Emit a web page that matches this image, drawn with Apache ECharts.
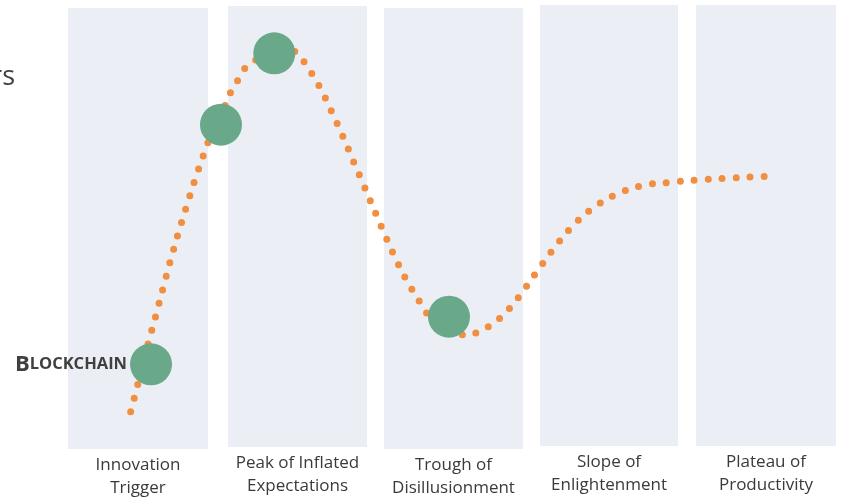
<!DOCTYPE html>
<html>
<head>
<meta charset="utf-8">
<script src="https://cdn.jsdelivr.net/npm/echarts@6/dist/echarts.min.js"></script>
<style>
html,body{margin:0;padding:0;background:#fff;}
#chart{width:841px;height:501px;}
</style>
</head>
<body>
<div id="chart"></div>
<script>
// Phases (x in time units 0-100, y in visibility units 0-100)
var phaseNames = ['Innovation\nTrigger', 'Peak of Inflated\nExpectations', 'Trough of\nDisillusionment', 'Slope of\nEnlightenment', 'Plateau of\nProductivity'];
var phaseStart = [0, 20.83, 41.15, 61.46, 81.77];
var phaseEnd   = [18.23, 38.93, 59.24, 79.43, 100];
var phaseBottom = [0, 0.45, 0, 0.68, 0.68];
var phaseTop    = [99.3, 99.8, 99.3, 100, 100];

// Hype curve
var curveX = [8.16, 9.08, 10.46, 11.42, 12.37, 13.32, 14.32, 15.40, 16.54, 17.73, 18.40, 19.92, 20.61, 21.45, 22.40, 23.48, 28.0, 29.65, 30.77, 32.72, 34.34, 35.85, 37.28, 38.02, 40.92, 42.41, 44.05, 45.96, 46.97, 52.21, 53.42, 55.08, 56.51, 57.77, 58.89, 61.03, 63.19, 65.53, 68.27, 71.45, 74.91, 78.61, 82.25, 85.94, 89.58, 91.95];
var curveY = [8.4, 14.5, 23.9, 29.95, 36.2, 42.3, 48.4, 54.5, 60.7, 66.6, 69.6, 73.0, 78.4, 81.1, 83.85, 86.5, 90.1, 89.4, 87.1, 81.7, 75.97, 70.2, 64.3, 61.4, 49.6, 43.8, 38.1, 32.7, 30.2, 25.56, 26.4, 27.9, 29.9, 32.2, 34.7, 39.9, 45.0, 49.9, 54.2, 57.4, 59.4, 60.1, 60.65, 61.0, 61.3, 61.4];

// Technologies placed on the curve
var techNames = ['BLOCKCHAIN', '', '', ''];
var techX = [10.81, 19.92, 26.86, 49.61];
var techY = [19.08, 73.04, 89.12, 29.80];

var chart = echarts.init(document.getElementById('chart'), null, {renderer: 'canvas'});

var areas = phaseNames.map(function (n, i) {
  return [{name: n, xAxis: phaseStart[i], yAxis: phaseBottom[i]}, {xAxis: phaseEnd[i], yAxis: phaseTop[i]}];
});
var curve = curveX.map(function (x, i) { return [x, curveY[i]]; });
var techs = techX.map(function (x, i) {
  var d = {value: [x, techY[i]], name: techNames[i]};
  if (techNames[i]) {
    d.label = {
      show: true, position: 'left', distance: 3,
      formatter: '{a|B}{b|LOCKCHAIN}',
      rich: {
        a: {fontFamily: 'Open Sans', fontWeight: 'bold', fontSize: 22, color: '#404040'},
        b: {fontFamily: 'Open Sans', fontWeight: 'bold', fontSize: 16.5, color: '#404040'}
      }
    };
  }
  return d;
});

chart.setOption({
  animation: false,
  backgroundColor: '#ffffff',
  title: {
    text: 'rs', right: 826, top: 62, padding: 0,
    textStyle: {fontFamily: 'Open Sans', fontWeight: 'normal', fontSize: 27, color: '#404040', lineHeight: 30}
  },
  grid: {left: 68, right: 5, top: 5, bottom: 52},
  xAxis: {type: 'value', min: 0, max: 100, show: false},
  yAxis: {type: 'value', min: 0, max: 100, show: false},
  series: [
    {
      type: 'line', data: [], silent: true,
      markArea: {
        silent: true,
        itemStyle: {color: '#ebeef4'},
        label: {
          show: true, position: 'bottom', distance: 5,
          fontFamily: 'Open Sans', fontSize: 17, lineHeight: 23, color: '#3a3a3a', align: 'center'
        },
        data: areas
      }
    },
    {
      type: 'line', data: curve, smooth: 0.35, showSymbol: false, silent: true,
      lineStyle: {color: '#f28e3f', width: 7, type: [0, 14], cap: 'round'},
      z: 3
    },
    {
      type: 'scatter', data: techs, symbolSize: 42, silent: true,
      itemStyle: {color: '#6aa88a', opacity: 1},
      z: 4
    }
  ]
});
</script>
</body>
</html>
